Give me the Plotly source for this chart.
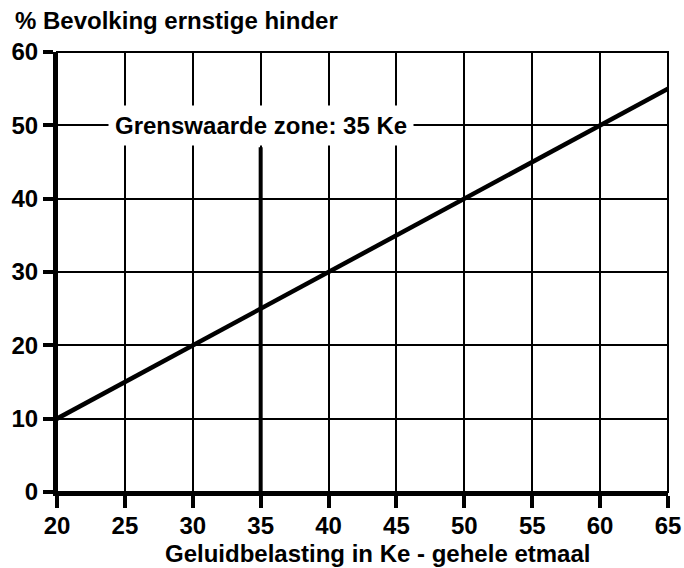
import plotly.graph_objects as go

# Data
noise_ke = [20, 30, 40, 50, 60, 65]
pct_hindered = [10, 20, 30, 40, 50, 55]
x_ticks = [20, 25, 30, 35, 40, 45, 50, 55, 60, 65]
y_ticks = [0, 10, 20, 30, 40, 50, 60]
limit_ke = 35
limit_line_top = 47
label_y = 50
label_text = "Grenswaarde zone: 35 Ke"
y_title = "% Bevolking ernstige hinder"
x_title = "Geluidbelasting in Ke - gehele etmaal"

FONT = "Liberation Sans, Arial, sans-serif"
FS = 24

fig = go.Figure()
fig.add_trace(go.Scatter(x=noise_ke, y=pct_hindered, mode="lines",
                         line=dict(color="black", width=4.5), showlegend=False,
                         hoverinfo="skip"))

# Vertical limit line
fig.add_shape(type="line", x0=limit_ke, x1=limit_ke, y0=0, y1=limit_line_top,
              xref="x", yref="y", line=dict(color="black", width=4), layer="above")
# Top / right border
fig.add_shape(type="rect", x0=0, x1=1, y0=0, y1=1, xref="paper", yref="paper",
              line=dict(color="black", width=2), layer="above")

fig.add_annotation(x=limit_ke, y=label_y, xref="x", yref="y", text="<b>" + label_text + "</b>",
                   showarrow=False, bgcolor="white", borderpad=6,
                   font=dict(family=FONT, size=FS, color="black"))

fig.add_annotation(x=0, y=1, xref="paper", yref="paper", xanchor="left", yanchor="middle",
                   xshift=-44, yshift=32, text="<b>" + y_title + "</b>", showarrow=False,
                   font=dict(family=FONT, size=FS, color="black"))

fig.add_annotation(x=0.5, y=0, xref="paper", yref="paper", xanchor="center", yanchor="middle",
                   xshift=15, yshift=-61, text="<b>" + x_title + "</b>", showarrow=False,
                   font=dict(family=FONT, size=FS, color="black"))

fig.update_xaxes(range=[20, 65], tickvals=x_ticks, ticktext=[f"<b>{v}</b>" for v in x_ticks],
                 showgrid=True, gridcolor="black", gridwidth=2,
                 showline=True, linecolor="black", linewidth=4,
                 ticks="outside", ticklen=12, tickwidth=4, tickcolor="black",
                 ticklabelstandoff=-3, ticklabeloverflow="allow",
                 zeroline=False,
                 tickfont=dict(family=FONT, size=FS, color="black"))
fig.update_yaxes(range=[0, 60], tickvals=y_ticks, ticktext=[f"<b>{v}</b>" for v in y_ticks],
                 showgrid=True, gridcolor="black", gridwidth=2,
                 showline=True, linecolor="black", linewidth=4,
                 ticks="outside", ticklen=10, tickwidth=4, tickcolor="black",
                 zeroline=False,
                 tickfont=dict(family=FONT, size=FS, color="black"))

fig.update_layout(width=684, height=568, plot_bgcolor="white", paper_bgcolor="white",
                  margin=dict(l=57, r=16, t=52, b=76, autoexpand=False),
                  font=dict(family=FONT, color="black"))

fig.write_html(
    "out.html",
    config={"displayModeBar": False, "staticPlot": True},
    post_script="document.documentElement.style.margin='0';document.documentElement.style.overflow='hidden';"
                "document.body.style.margin='0';document.body.style.overflow='hidden';",
)
